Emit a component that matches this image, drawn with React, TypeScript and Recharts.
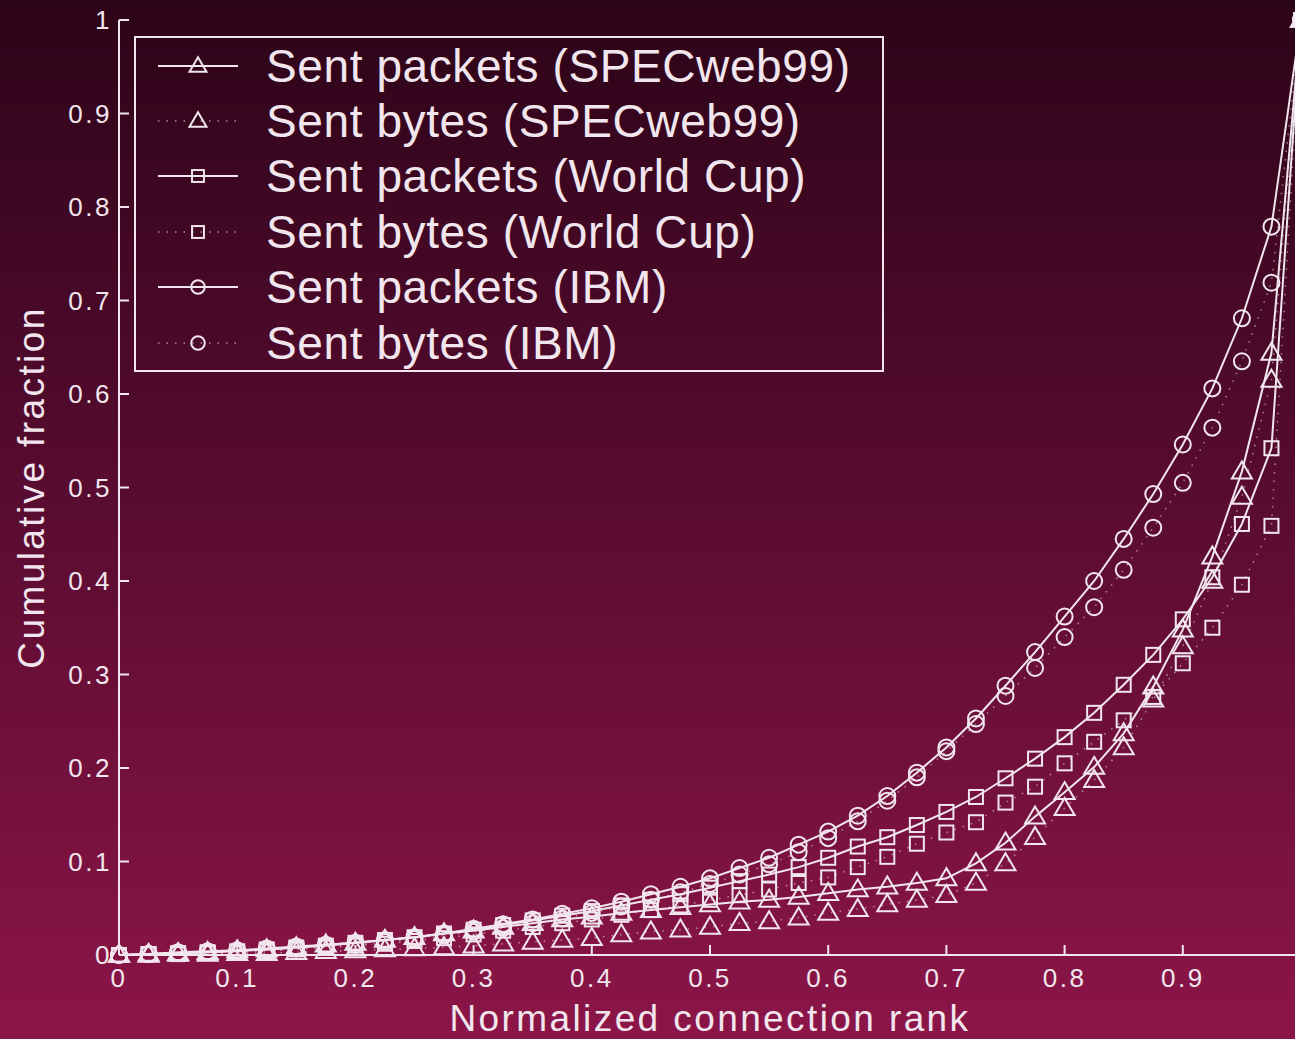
import React from "react";
import { LineChart, Line, XAxis, YAxis, Legend } from "recharts";

// normalized connection rank (x)
const RANK = [
  0, 0.025, 0.05, 0.075, 0.1, 0.125, 0.15, 0.175, 0.2, 0.225, 0.25, 0.275, 0.3, 0.325,
  0.35, 0.375, 0.4, 0.425, 0.45, 0.475, 0.5, 0.525, 0.55, 0.575, 0.6, 0.625, 0.65, 0.675,
  0.7, 0.725, 0.75, 0.775, 0.8, 0.825, 0.85, 0.875, 0.9, 0.925, 0.95, 0.975, 1,
];

const SPEC_PACKETS = [
  0, 0.001, 0.002, 0.003, 0.005, 0.006, 0.008, 0.011, 0.013, 0.016,
  0.019, 0.023, 0.026, 0.03, 0.034, 0.038, 0.041, 0.045, 0.048, 0.051,
  0.054, 0.057, 0.059, 0.062, 0.066, 0.07, 0.073, 0.077, 0.082, 0.098,
  0.12, 0.148, 0.174, 0.201, 0.237, 0.287, 0.348, 0.426, 0.517, 0.644, 1,
];
const SPEC_BYTES = [
  0, 0, 0.001, 0.001, 0.002, 0.002, 0.003, 0.004, 0.005, 0.006,
  0.007, 0.008, 0.01, 0.012, 0.014, 0.016, 0.018, 0.022, 0.025, 0.027,
  0.03, 0.034, 0.036, 0.04, 0.045, 0.049, 0.054, 0.059, 0.064, 0.077,
  0.098, 0.126, 0.157, 0.187, 0.222, 0.273, 0.33, 0.4, 0.49, 0.615, 1,
];
const WC_PACKETS = [
  0, 0.001, 0.002, 0.003, 0.004, 0.006, 0.008, 0.01, 0.013, 0.016,
  0.019, 0.023, 0.027, 0.032, 0.037, 0.042, 0.047, 0.053, 0.059, 0.065,
  0.072, 0.079, 0.086, 0.094, 0.104, 0.116, 0.126, 0.139, 0.153, 0.169,
  0.189, 0.21, 0.233, 0.259, 0.289, 0.321, 0.359, 0.404, 0.461, 0.542, 1,
];
const WC_BYTES = [
  0, 0.001, 0.001, 0.002, 0.003, 0.004, 0.006, 0.008, 0.01, 0.012,
  0.015, 0.018, 0.022, 0.026, 0.03, 0.034, 0.038, 0.043, 0.048, 0.053,
  0.059, 0.064, 0.07, 0.077, 0.083, 0.094, 0.105, 0.119, 0.131, 0.142,
  0.163, 0.18, 0.205, 0.228, 0.251, 0.276, 0.312, 0.35, 0.396, 0.459, 1,
];
const IBM_PACKETS = [
  0, 0.001, 0.003, 0.004, 0.005, 0.007, 0.009, 0.011, 0.013, 0.016,
  0.019, 0.023, 0.028, 0.033, 0.038, 0.044, 0.05, 0.057, 0.065, 0.073,
  0.082, 0.093, 0.104, 0.118, 0.132, 0.149, 0.17, 0.195, 0.222, 0.253,
  0.288, 0.324, 0.362, 0.4, 0.445, 0.493, 0.546, 0.606, 0.681, 0.779, 1,
];
const IBM_BYTES = [
  0, 0.001, 0.002, 0.003, 0.004, 0.006, 0.007, 0.009, 0.011, 0.014,
  0.017, 0.021, 0.025, 0.029, 0.034, 0.039, 0.045, 0.052, 0.059, 0.067,
  0.076, 0.086, 0.097, 0.11, 0.125, 0.143, 0.165, 0.19, 0.218, 0.247,
  0.277, 0.307, 0.34, 0.372, 0.412, 0.457, 0.505, 0.564, 0.635, 0.719, 1,
];

const TICKS = [0, 0.1, 0.2, 0.3, 0.4, 0.5, 0.6, 0.7, 0.8, 0.9, 1];

type Shape = "triangle" | "square" | "circle";

const SERIES: { key: string; name: string; values: number[]; shape: Shape; dotted: boolean }[] = [
  { key: "specPackets", name: "Sent packets (SPECweb99)", values: SPEC_PACKETS, shape: "triangle", dotted: false },
  { key: "specBytes", name: "Sent bytes (SPECweb99)", values: SPEC_BYTES, shape: "triangle", dotted: true },
  { key: "wcPackets", name: "Sent packets (World Cup)", values: WC_PACKETS, shape: "square", dotted: false },
  { key: "wcBytes", name: "Sent bytes (World Cup)", values: WC_BYTES, shape: "square", dotted: true },
  { key: "ibmPackets", name: "Sent packets (IBM)", values: IBM_PACKETS, shape: "circle", dotted: false },
  { key: "ibmBytes", name: "Sent bytes (IBM)", values: IBM_BYTES, shape: "circle", dotted: true },
];

const data = RANK.map((rank, i) => {
  const row: Record<string, number> = { rank };
  SERIES.forEach((s) => (row[s.key] = s.values[i]));
  return row;
});

const INK = "#f2e6ee";
const FONT = "'Liberation Sans', Arial, sans-serif";

function Marker({ cx, cy, shape, scale = 1 }: { cx?: number; cy?: number; shape: Shape; scale?: number }) {
  if (cx == null || cy == null) return null;
  const common = { fill: "none", stroke: INK, strokeWidth: 2 };
  if (shape === "triangle") {
    const w = 20 * scale;
    const h = 17 * scale;
    return (
      <path
        d={`M${cx},${cy - h * 0.6} L${cx + w / 2},${cy + h * 0.4} L${cx - w / 2},${cy + h * 0.4} Z`}
        {...common}
      />
    );
  }
  if (shape === "square") {
    const s = 14 * scale;
    return <rect x={cx - s / 2} y={cy - s / 2} width={s} height={s} {...common} />;
  }
  return <circle cx={cx} cy={cy} r={8 * scale} {...common} />;
}

const dotFor = (shape: Shape) => (props: any) =>
  <Marker key={`m-${props.index}`} cx={props.cx} cy={props.cy} shape={shape} />;

const fmt = (v: number) => (v === 0 ? "0" : v === 1 ? "1" : v.toFixed(1));
// the x = 1 label falls outside the cropped picture
const fmtX = (v: number) => (v === 1 ? "" : fmt(v));

// keep legend rows in series order (recharts sorts the payload by name)
function LegendBox({ payload }: any) {
  const keys = new Set((payload || []).map((p: any) => p.dataKey));
  const rows = SERIES.filter((s) => keys.size === 0 || keys.has(s.key));
  return (
    <div
      style={{
        width: 750,
        height: 336,
        border: `2px solid ${INK}`,
        boxSizing: "border-box",
        paddingTop: 0,
      }}
    >
      {rows.map((s) => (
        <div key={s.key} style={{ display: "flex", alignItems: "center", height: 55.4 }}>
          <svg width={130} height={40} style={{ flex: "none" }}>
            <line
              x1={22}
              x2={102}
              y1={20}
              y2={20}
              stroke={INK}
              strokeWidth={s.dotted ? 1.5 : 2}
              strokeDasharray={s.dotted ? "1.5 7" : undefined}
              strokeOpacity={s.dotted ? 0.6 : 1}
            />
            <Marker cx={62} cy={20} shape={s.shape} scale={0.85} />
          </svg>
          <span style={{ color: INK, fontFamily: FONT, fontSize: 46, letterSpacing: 0.6, lineHeight: 1 }}>
            {s.name}
          </span>
        </div>
      ))}
    </div>
  );
}

export default function App() {
  const tickStyle = { fill: INK, fontSize: 26, fontFamily: FONT, letterSpacing: 2.5 };
  const axisLine = { stroke: INK, strokeWidth: 2 };
  return (
    <div
      style={{
        position: "fixed",
        left: 0,
        top: 0,
        width: 1295,
        height: 1039,
        overflow: "hidden",
        background: "linear-gradient(to bottom, #2c0418 0%, #560b2f 45%, #8c1548 100%)",
      }}
    >
      <LineChart width={1315} height={1039} data={data} margin={{ top: 20, right: 14, bottom: 0, left: 0 }}>
        <XAxis
          dataKey="rank"
          type="number"
          domain={[0, 1]}
          ticks={TICKS}
          tickFormatter={fmtX}
          interval={0}
          height={84}
          tickSize={-10}
          tickMargin={24}
          tick={tickStyle}
          axisLine={axisLine}
          tickLine={axisLine}
          label={{
            value: "Normalized connection rank",
            position: "insideBottom",
            offset: 8,
            fill: INK,
            fontSize: 37,
            fontFamily: FONT,
            letterSpacing: 2.4,
          }}
        />
        <XAxis
          xAxisId="top"
          orientation="top"
          dataKey="rank"
          type="number"
          domain={[0, 1]}
          ticks={TICKS}
          interval={0}
          height={0}
          tickSize={-10}
          tick={false}
          axisLine={axisLine}
          tickLine={axisLine}
        />
        <YAxis
          type="number"
          domain={[0, 1]}
          ticks={TICKS}
          tickFormatter={fmt}
          interval={0}
          width={119}
          tickSize={-10}
          tickMargin={17}
          tick={tickStyle}
          axisLine={axisLine}
          tickLine={axisLine}
          label={{
            value: "Cumulative fraction",
            angle: -90,
            position: "insideLeft",
            offset: 31,
            fill: INK,
            fontSize: 37,
            fontFamily: FONT,
            letterSpacing: 2.4,
            style: { textAnchor: "middle" },
          }}
        />
        <YAxis
          yAxisId="right"
          orientation="right"
          type="number"
          domain={[0, 1]}
          ticks={TICKS}
          interval={0}
          width={0}
          tickSize={-10}
          tick={false}
          axisLine={axisLine}
          tickLine={axisLine}
        />
        <Legend
          layout="vertical"
          align="center"
          verticalAlign="middle"
          wrapperStyle={{ left: 134, top: 36, width: 750, height: 336 }}
          content={<LegendBox />}
        />
        {SERIES.map((s) => (
          <Line
            key={s.key}
            dataKey={s.key}
            name={s.name}
            type="linear"
            stroke={INK}
            strokeWidth={s.dotted ? 1.5 : 2}
            strokeDasharray={s.dotted ? "1.5 7" : undefined}
            strokeOpacity={s.dotted ? 0.55 : 1}
            dot={dotFor(s.shape)}
            activeDot={false}
            isAnimationActive={false}
          />
        ))}
      </LineChart>
    </div>
  );
}
